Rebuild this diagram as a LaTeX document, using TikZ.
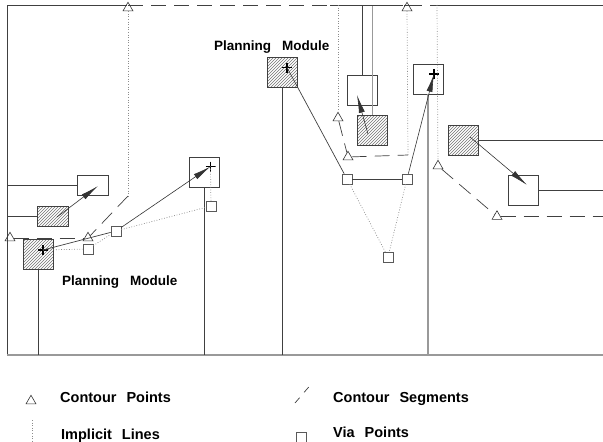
\documentclass[tikz,border=0pt]{standalone}
\usepackage{fontspec}
\setmainfont{Liberation Sans}
\usetikzlibrary{patterns,shapes.geometric,arrows.meta}

\tikzset{
  arm/.style={draw=black!75, line width=0.7pt},
  armgrey/.style={draw=black!40, line width=1.3pt},
  goalbox/.style={draw=black!75, line width=0.7pt, minimum width=30pt, minimum height=30pt, inner sep=0pt},
  startbox/.style={goalbox, pattern=north east lines, pattern color=black!55},
  contour/.style={regular polygon, regular polygon sides=3, draw=black!80, line width=0.6pt, minimum size=11.5pt, inner sep=0pt},
  via/.style={draw=black!65, line width=0.6pt, minimum size=10pt, inner sep=0pt},
  plus/.style={minimum size=10pt, inner sep=0pt, path picture={\draw[line width=1.5pt] (path picture bounding box.north) -- (path picture bounding box.south) (path picture bounding box.west) -- (path picture bounding box.east);}},
  implicit/.style={draw=black!45, line width=0.7pt, dash pattern=on 0.8pt off 1.8pt},
  segment/.style={draw=black!75, line width=0.7pt, dash pattern=on 15pt off 8pt},
  move/.style={draw=black!80, line width=0.6pt, -{Latex[length=18pt,width=6pt]}},
  modtext/.style={font=\bfseries\fontsize{13.5}{16}\selectfont, inner sep=0pt, anchor=base west},
  legendtext/.style={font=\bfseries\fontsize{14.5}{17}\selectfont, inner sep=0pt, anchor=base west}
}

\begin{document}
\begin{tikzpicture}[x=1pt,y=-1pt]
\useasboundingbox (0,0) rectangle (603,442);
\coordinate (nw) at (7,5);
\coordinate (sw) at (7,355);
\coordinate (se) at (603,355);
\coordinate (ne) at (603,5);

% robots, start (hatched) and goal
\node[startbox, minimum width=31pt, minimum height=20pt] (b2) at (52.5,216) {};
\node[goalbox, minimum width=31pt, minimum height=20pt] (b1) at (92.5,185) {};
\node[startbox] (b3) at (38,254.5) {};
\node[goalbox] (b4) at (204,172) {};
\node[startbox] (b5) at (282.5,72) {};
\node[goalbox] (b6) at (428,79) {};
\node[goalbox] (b7) at (362.5,90.5) {};
\node[startbox] (b8) at (372.5,130.5) {};
\node[startbox] (b9) at (463,140) {};
\node[goalbox] (b10) at (523,190.5) {};

\node[plus] (p1) at (43,250) {};
\node[plus] (p2) at (210.5,166.5) {};
\node[plus] (p3) at (287,67.5) {};
\node[plus] (p4) at (434,74) {};

% frame and arms
\draw[arm] (127,5) -- (nw) -- (sw);
\draw[armgrey] (sw) -- (se);
\draw[arm] (330,5) -- (403,5);
\draw[arm] (b1.west) -- (b1.west -| nw);
\draw[arm] (b2.west) -- (b2.west -| nw);
\draw[arm] (b3.south) -- (b3.south |- sw);
\draw[arm] (b4.south) -- (b4.south |- sw);
\draw[arm] (b5.south) -- (b5.south |- sw);
\draw[armgrey] (b6.south) -- (b6.south |- sw);
\draw[arm] (b7.north) -- (b7.north |- nw);
\draw[armgrey] (b8.north) -- (b8.north |- nw);
\draw[arm] (b9.east) -- (b9.east -| ne);
\draw[arm] (b10.east) -- (b10.east -| ne);

% contour points and segments
\node[contour] (t1) at (10,238) {};
\node[contour] (t2) at (88,238) {};
\node[contour] (t3) at (128,8) {};
\node[contour] (t4) at (338,118) {};
\node[contour] (t5) at (348,157) {};
\node[contour] (t6) at (407,8) {};
\node[contour] (t7) at (438,166) {};
\node[contour] (t8) at (497,216.5) {};
\coordinate (c1) at (128,196);
\coordinate (c2) at (408,155);
\coordinate (c3) at (338,5);
\coordinate (c4) at (437,5);

\draw[segment] (t1) -- (t2);
\draw[segment] (c1) -- (t2);
\draw[segment] (t3 |- nw) -- (t6 |- nw);
\draw[segment] (t6 |- nw) -- (c4);
\draw[arm] (c4) -- (ne);
\draw[segment] (t4) -- (t5);
\draw[segment] (t5) -- (c2);
\draw[segment] (t7) -- (t8);
\draw[segment] (t8) -- (t8 -| ne);
\draw[implicit] (t3) -- (c1);
\draw[implicit] (c3) -- (t4);
\draw[implicit] (t6) -- (c2);
\draw[implicit] (c4) -- (t7);

% via points and paths
\node[via] (v1) at (88,249) {};
\node[via] (v2) at (116,231) {};
\node[via] (v3) at (211,206) {};
\node[via] (v4) at (347,179) {};
\node[via] (v5) at (407,179) {};
\node[via] (v6) at (388,257) {};

\draw[implicit] (p1.center) -- (v1);
\draw[implicit] (v1) -- (v2);
\draw[implicit] (v2) -- (v3);
\draw[implicit] (v3) -- (p2.center);
\draw[implicit] (v4) -- (v6);
\draw[implicit] (v5) -- (v6);
\draw[arm] (p1.center) -- (v2);
\draw[move] (v2) -- (p2.center);
\draw[arm] (p3.center) -- (v4);
\draw[arm] (v4) -- (v5);
\draw[move] (v5) -- (p4.center);

\coordinate (m2) at (57,217);
\coordinate (m1) at (98,186);
\coordinate (m8) at (368,134);
\coordinate (m7) at (357,95);
\coordinate (m9) at (470,137);
\coordinate (m10) at (527,185);
\draw[move] (m2) -- (m1);
\draw[move] (m8) -- (m7);
\draw[move] (m9) -- (m10);

\node[modtext] (pm1) at (214,50) {Planning\hspace{11pt}Module};
\node[modtext] (pm2) at (62,285) {Planning\hspace{11pt}Module};

% legend
\node[contour] (lt) at (31,401) {};
\node[legendtext] (lt1) at (60,402) {Contour\hspace{10pt}Points};
\coordinate (ls1) at (295,403);
\coordinate (ls2) at (313,382);
\draw[segment, dash pattern=on 7pt off 7pt] (ls1) -- (ls2);
\node[legendtext] (ls3) at (333,402) {Contour\hspace{10pt}Segments};
\coordinate (li1) at (32,420);
\coordinate (li2) at (32,442);
\draw[implicit] (li1) -- (li2);
\node[legendtext] (li3) at (61,439) {Implicit\hspace{10pt}Lines};
\node[via] (lv) at (301,437) {};
\node[legendtext] (lv1) at (333,437) {Via\hspace{10pt}Points};
\end{tikzpicture}
\end{document}
